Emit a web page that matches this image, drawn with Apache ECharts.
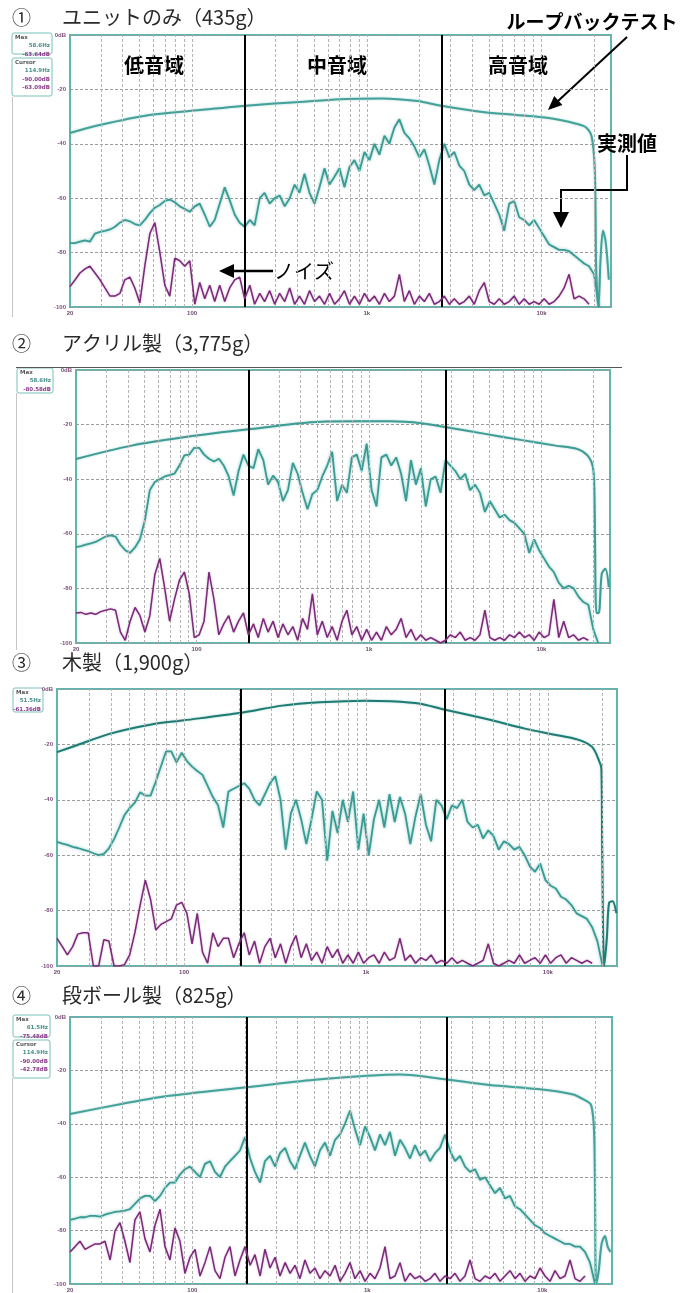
<!DOCTYPE html>
<html>
<head>
<meta charset="utf-8">
<script src="https://cdn.jsdelivr.net/npm/echarts/dist/echarts.min.js"></script>
<style>
html, body { margin: 0; padding: 0; background: #fff; }
#chart { width: 700px; height: 1293px; }
</style>
</head>
<body>
<div id="chart"></div>
<script>
"use strict";

// shared frequency grid (Hz) for the measured and noise traces
var FREQS = [
	20, 21.4, 22.8, 24.4, 26.0, 27.8, 29.7, 31.7, 33.9, 36.2,
	38.6, 41.2, 44.0, 47.0, 50.2, 53.6, 57.3, 61.2, 65.4, 69.8,
	74.5, 79.6, 85.0, 90.8, 97.0, 103.6, 110.6, 118.1, 126.2, 134.7,
	143.9, 153.7, 164.1, 175.3, 187.2, 200, 214, 228, 244, 260,
	278, 297, 317, 339, 362, 386, 412, 440, 470, 502,
	536, 573, 612, 654, 698, 745, 796, 850, 908, 970,
	1036, 1106, 1181, 1262, 1347, 1439, 1537, 1641, 1753, 1872,
	2000, 2136, 2281, 2436, 2602, 2779, 2968, 3170, 3385, 3615,
	3861, 4124, 4404, 4704, 5023, 5365, 5730, 6119, 6535, 6980,
	7454, 7961, 8502, 9080, 9698, 10357, 11061, 11813, 12617, 13474,
	14390, 15369, 16414, 17530, 18722, 20000, 21360, 22810, 24360
];

var GRID_FREQS = [30, 40, 50, 60, 70, 80, 90, 100, 200, 300, 400, 500, 600, 700, 800, 900,
	1000, 2000, 3000, 4000, 5000, 6000, 7000, 8000, 9000, 10000, 20000];

var TITLES = ['ユニットのみ（435g）', 'アクリル製（3,775g）', '木製（1,900g）', '段ボール製（825g）'];
var NUMBERS = ['①', '②', '③', '④'];
var BAND_NAMES = ['低音域', '中音域', '高音域'];

// ① unit only
var p1Loop = [[20, -36], [30, -33], [57, -29.4], [111, -27.6], [195, -26.1], [412, -24.6], [760, -23.5],
	[1230, -23.3], [1950, -24.3], [2670, -26], [4600, -28.3], [7200, -29.4], [11000, -30.5], [15800, -32.6],
	[18000, -34], [19400, -37.5], [20200, -50], [20600, -88], [21200, -100], [21800, -82], [22500, -72],
	[23300, -76], [24300, -90]];
var p1Measured = [
	-76.5, -76.5, -76, -75.5, -76, -73, -72.4, -72, -71.5, -70.5,
	-69, -68, -68.5, -69.5, -70, -68, -65.5, -63.5, -62.5, -61,
	-60.5, -61.5, -63, -64, -65, -63, -62, -66, -70.5, -68,
	-62, -56, -60.7, -66, -69, -70.5, -68, -70, -60, -58,
	-62, -60, -59, -63, -60, -55, -58, -51, -58, -62,
	-56, -49, -55, -52, -49, -56, -48.5, -46, -50, -43,
	-46, -40, -44, -37, -40, -34, -31, -36, -38, -41,
	-45, -42, -48, -55, -46, -40, -45, -43, -48, -50,
	-55, -57, -55, -59, -58, -62, -66, -72, -62, -61,
	-67, -68, -70, -68, -71, -74, -77, -78, -79, -79,
	-79.5, -81, -82.5, -84, -85, -88, -100
];
var p1Noise = [
	-92.5, -90, -87.5, -86, -85, -87.5, -90, -93, -96, -96,
	-95, -90, -89, -93, -98.5, -85, -73, -69, -80, -92,
	-96, -82, -83, -85, -83, -99, -91, -97, -92, -98,
	-92, -98, -93, -90, -89, -97, -92, -99, -95, -98,
	-94, -99, -95, -98, -93, -99, -96, -99, -94, -98,
	-96, -99, -95, -99, -97, -94, -99, -96, -99, -95,
	-98, -96, -99, -95, -98, -96, -88, -98, -94, -99,
	-96, -98, -95, -99, -98, -96, -99, -97, -99, -98,
	-96, -99, -94, -91, -98, -99, -97, -99, -98, -96,
	-99, -97, -99, -98, -99, -97, -99, -98, -96, -93,
	-88, -97, -96, -97, -99
];

// ② acrylic
var p2Loop = [[20, -32.6], [42, -27.7], [100, -24], [206, -21.6], [565, -18.9], [1320, -18.8], [2020, -19.5],
	[2810, -21], [4720, -23.4], [7570, -25.6], [12100, -27.7], [16100, -28.9], [18500, -31.3], [19900, -35.6],
	[20300, -45], [20850, -89], [21500, -89], [22400, -74.6], [23500, -72.8], [24600, -79.5]];
var p2Measured = [
	-64.9, -64.5, -64, -63.5, -63, -62, -61, -60.6, -61, -64,
	-66, -67, -65, -62, -55, -44, -41, -40, -39, -38.5,
	-38, -35, -31.3, -31, -28.5, -28.5, -31, -32.5, -33.5, -32.5,
	-35, -39, -46, -37, -31, -35, -36, -29, -33, -42,
	-38.7, -41, -48, -44, -34, -38, -45, -51, -45.4, -44,
	-39, -35, -30, -48, -42, -45, -32, -31, -37, -27,
	-44, -50, -32, -31, -35, -32, -38, -48, -33, -42,
	-36, -50, -40, -39, -45, -33, -35, -37, -40, -38,
	-44, -42, -45, -52, -48, -51, -54, -53, -55, -56,
	-58, -60, -67, -62, -66, -69, -72, -74, -78, -80,
	-79, -80, -83, -85, -86, -95, -100
];
var p2Noise = [
	-89, -88.8, -89.5, -89, -89.5, -88.5, -88, -87.5, -88, -96,
	-99, -92, -87, -90, -96, -90, -75, -69, -80, -92,
	-84, -77, -74, -82, -98, -97, -92, -74, -84, -97,
	-93, -90, -96, -92, -89, -97, -93, -98, -91, -96,
	-92, -98, -93, -97, -94, -99, -91, -95, -82, -97,
	-92, -98, -94, -99, -92, -88, -97, -94, -99, -95,
	-99, -96, -99, -94, -97, -95, -91, -98, -95, -99,
	-97, -99, -98, -99, -100, -99, -97, -98, -96, -99,
	-98, -99, -97, -88, -98, -99, -98, -99, -97, -98,
	-96, -98, -97, -99, -96, -98, -97, -84, -98, -92,
	-98, -97, -99, -98, -99
];

// ③ wood
var p3Loop = [[20, -22.8], [25.7, -20.3], [39.3, -16.1], [66, -12.8], [100, -11.3], [205, -8.6], [346, -6],
	[556, -4.8], [980, -4.2], [1365, -4.4], [1990, -5.3], [2640, -7.3], [4670, -10.9], [7480, -14.3],
	[10900, -16.5], [14500, -18.2], [17500, -20.9], [19260, -26.4], [19700, -28.8], [19900, -58],
	[20400, -100], [21100, -90], [21700, -77.2], [22700, -76.6], [23800, -80.9]];
var p3Measured = [
	-55.2, -55.8, -56.3, -57, -57.4, -58, -58.5, -59.3, -60, -59.5,
	-57.5, -54.2, -50, -45.5, -43, -41, -37.3, -38.5, -38.5, -33.5,
	-28, -22.5, -22.5, -26.5, -23, -26, -28, -29.6, -31, -35,
	-39, -42, -50, -37, -36, -35, -34, -36, -40, -42,
	-38, -34, -31.5, -40, -58, -45, -40, -47, -56, -47,
	-37, -40, -62, -44, -52, -40, -48, -37, -58, -45,
	-60, -47, -40, -50, -38, -48, -39, -45, -56, -46,
	-38, -49, -55, -40, -42, -47, -42, -43, -40, -48,
	-50, -49, -54, -51, -53, -58, -55, -56, -58, -57,
	-60, -64, -66, -63, -69, -71, -72, -75, -76, -78,
	-81, -82, -83, -86, -91, -100
];
var p3Noise = [
	-90, -93, -96, -93, -88.5, -88, -88, -100, -100, -90.5,
	-91, -100, -100, -99.5, -96, -88, -78, -69, -76, -87,
	-85, -84, -83, -78, -77, -81, -92, -81, -95, -99,
	-88, -93, -90, -90, -97, -92, -88, -96, -91, -99,
	-93, -90, -97, -92, -99, -93, -89, -97, -92, -98,
	-95, -99, -93, -97, -94, -99, -96, -99, -95, -99,
	-97, -96, -99, -95, -98, -97, -90, -98, -96, -99,
	-97, -98, -96, -99, -98, -99, -97, -99, -98, -99,
	-100, -99, -98, -92, -99, -100, -99, -98, -99, -96,
	-99, -98, -97, -99, -96, -99, -97, -96, -99, -97,
	-98, -99, -98, -99
];

// ④ cardboard
var p4Loop = [[20, -36.3], [40, -32.5], [72, -29.6], [203, -26.3], [500, -23.5], [1000, -22], [1540, -21.5],
	[2780, -23.3], [5000, -25.5], [9400, -27], [15000, -29], [17000, -30.7], [19000, -33], [19800, -45],
	[20300, -100], [21000, -95], [21800, -85], [22800, -82], [23600, -86], [24500, -88]];
var p4Measured = [
	-76, -75.5, -75, -75, -74.5, -74.5, -74.8, -74, -73.5, -73,
	-72.8, -72.5, -72, -70, -68, -67, -67, -69, -67, -64,
	-62, -62, -59, -57, -56, -58, -60, -55, -54, -58,
	-60, -56, -54, -52, -50, -45, -53, -58, -62, -54,
	-52, -56, -51, -49, -54, -57, -52, -47, -52, -56,
	-50, -47, -52, -46, -44, -40, -35, -42, -48, -41,
	-45, -50, -44, -48, -43, -52, -46, -49, -53, -48,
	-52, -50, -54, -51, -49, -44, -50, -54, -52, -56,
	-58, -57, -61, -60, -63, -66, -64, -68, -67, -71,
	-72, -74, -76, -78, -79, -81, -82, -83, -84, -85,
	-85, -86, -86, -88, -92, -100
];
var p4Noise = [
	-88, -86, -84, -87, -86, -85, -85, -84, -91, -80,
	-77, -84, -92, -76, -73, -83, -88, -78, -72, -86,
	-91, -79, -84, -96, -90, -87, -97, -92, -86, -95,
	-98, -90, -86, -97, -91, -86, -93, -89, -97, -87,
	-94, -90, -97, -92, -96, -93, -98, -91, -96, -94,
	-98, -95, -97, -93, -99, -96, -92, -98, -95, -99,
	-96, -98, -94, -86, -98, -97, -92, -99, -96, -98,
	-97, -99, -98, -96, -99, -97, -98, -96, -99, -97,
	-91, -98, -99, -97, -98, -96, -99, -97, -95, -98,
	-96, -99, -97, -98, -94, -97, -99, -95, -98, -97,
	-91, -98, -99, -97
];

// band edges (Hz) drawn as black lines in each panel
var BANDS = [[200, 2700], [200, 2800], [205, 2700], [205, 2850]];

var INFO = [
	[{ x: 12, y: 33, w: 40, h: 21, lines: ['Max', '58.6Hz', '-63.64dB'] },
	 { x: 12, y: 58, w: 40, h: 38, lines: ['Cursor', '114.9Hz', '-90.00dB', '-63.09dB'] }],
	[{ x: 17, y: 368, w: 36, h: 25, lines: ['Max', '58.6Hz', '-80.58dB'] }],
	[{ x: 13, y: 688, w: 30, h: 24, lines: ['Max', '51.5Hz', '-61.36dB'] }],
	[{ x: 13, y: 1015, w: 37, h: 22, lines: ['Max', '61.5Hz', '-75.48dB'] },
	 { x: 13, y: 1040, w: 37, h: 38, lines: ['Cursor', '114.9Hz', '-90.00dB', '-42.78dB'] }]
];

var PANELS = [
	{ grid: { left: 70, top: 35, width: 541, height: 272 }, xMax: 25000, titleY: 19, loop: p1Loop, meas: p1Measured, noise: p1Noise, loopColor: '#45a29b' },
	{ grid: { left: 76, top: 370, width: 534, height: 273 }, xMax: 25000, titleY: 345, loop: p2Loop, meas: p2Measured, noise: p2Noise, loopColor: '#3f9c95' },
	{ grid: { left: 57, top: 689, width: 560, height: 277 }, xMax: 24000, titleY: 664, loop: p3Loop, meas: p3Measured, noise: p3Noise, loopColor: '#1f7c75' },
	{ grid: { left: 70, top: 1017, width: 542, height: 270 }, xMax: 25000, titleY: 997, loop: p4Loop, meas: p4Measured, noise: p4Noise, loopColor: '#45a29b' }
];

var JP = '"Noto Sans CJK JP", sans-serif';

function toPairs(values) {
	var out = [];
	for (var k = 0; k < values.length; k++) {
		if (values[k] !== null) out.push([FREQS[k], values[k]]);
	}
	return out;
}

function fmtFreq(v) {
	var r = Math.round(v);
	if (r === 20) return '20';
	if (r === 100) return '100';
	if (r === 1000) return '1k';
	if (r === 10000) return '10k';
	return '';
}

function fmtDb(v) {
	return v === 0 ? '0dB' : String(v);
}

var option = {
	animation: false,
	backgroundColor: '#fff',
	grid: [],
	xAxis: [],
	yAxis: [],
	series: [],
	graphic: []
};

PANELS.forEach(function(p, i) {
	var g = p.grid;
	option.grid.push({
		left: g.left, top: g.top, width: g.width, height: g.height,
		show: true, borderColor: '#5db7ae', borderWidth: 2, backgroundColor: '#fff'
	});
	option.xAxis.push({
		type: 'log', logBase: 10, gridIndex: i, min: 20, max: p.xMax,
		axisLine: { show: false }, axisTick: { show: false }, splitLine: { show: false },
		axisLabel: { fontSize: 6, color: '#6d4a6d', fontWeight: 'bold', margin: 3, formatter: fmtFreq, showMaxLabel: false }
	});
	option.yAxis.push({
		type: 'value', gridIndex: i, min: -100, max: 0, interval: 20,
		axisLine: { show: false }, axisTick: { show: false },
		splitLine: { lineStyle: { color: '#9c9c9c', type: [3, 2], width: 1 } },
		axisLabel: { fontSize: 6, color: '#7d4f7d', fontWeight: 'bold', margin: 4, formatter: fmtDb }
	});

	// dashed frequency grid
	option.series.push({
		type: 'line', xAxisIndex: i, yAxisIndex: i, data: [], silent: true, z: 1,
		markLine: {
			silent: true, symbol: ['none', 'none'], animation: false, label: { show: false },
			lineStyle: { color: '#b3b3b3', type: [3, 2], width: 1 },
			data: GRID_FREQS.map(function(f) { return { xAxis: f }; })
		}
	});
	option.series.push({
		name: 'loopback', type: 'line', xAxisIndex: i, yAxisIndex: i, data: p.loop,
		showSymbol: false, symbol: 'none', smooth: 0.3, z: 3,
		lineStyle: { color: p.loopColor, width: 2, shadowColor: 'rgba(90,175,165,0.6)', shadowBlur: 2 }
	});
	option.series.push({
		name: 'measured', type: 'line', xAxisIndex: i, yAxisIndex: i, data: toPairs(p.meas),
		showSymbol: false, symbol: 'none', z: 4,
		lineStyle: { color: '#399b94', width: 1.8, shadowColor: 'rgba(90,175,165,0.7)', shadowBlur: 3 }
	});
	option.series.push({
		name: 'noise', type: 'line', xAxisIndex: i, yAxisIndex: i, data: toPairs(p.noise),
		showSymbol: false, symbol: 'none', z: 5,
		lineStyle: { color: '#7b2a79', width: 1.5, shadowColor: 'rgba(150,80,150,0.5)', shadowBlur: 2 }
	});
	// band borders
	option.series.push({
		type: 'line', xAxisIndex: i, yAxisIndex: i, data: [], silent: true, z: 10,
		markLine: {
			silent: true, symbol: ['none', 'none'], animation: false, label: { show: false },
			lineStyle: { color: '#000', type: 'solid', width: 2 },
			data: BANDS[i].map(function(f) { return { xAxis: f }; })
		}
	});

	// title
	option.graphic.push({
		type: 'text', left: 12, top: p.titleY - 11,
		style: { text: NUMBERS[i], font: '19px ' + JP, fill: '#2a2a2a' }
	});
	option.graphic.push({
		type: 'text', left: 62, top: p.titleY - 12,
		style: { text: TITLES[i], font: '20px ' + JP, fill: '#2a2a2a' }
	});

	// measurement info boxes
	INFO[i].forEach(function(b) {
		option.graphic.push({
			type: 'rect', shape: { x: b.x, y: b.y, width: b.w, height: b.h, r: 2 },
			style: { fill: '#fff', stroke: '#78c2ba', lineWidth: 1 }
		});
		b.lines.forEach(function(t, j) {
			var col = j === 0 ? '#555' : (t.indexOf('Hz') > 0 ? '#4a8f8a' : '#8b3b8b');
			option.graphic.push({
				type: 'text', x: j === 0 ? b.x + 3 : b.x + b.w - 2, y: b.y + 1.5 + j * 8.5,
				style: { text: t, font: 'bold 5.5px "DejaVu Sans"', fill: col, align: j === 0 ? 'left' : 'right', verticalAlign: 'top' }
			});
		});
	});
});

// screenshot frame leftovers
option.graphic.push(
	{ type: 'line', shape: { x1: 12.5, y1: 97, x2: 12.5, y2: 317 }, style: { stroke: '#c4c4c4', lineWidth: 1 } },
	{ type: 'line', shape: { x1: 16, y1: 367.5, x2: 622, y2: 367.5 }, style: { stroke: '#555', lineWidth: 1 } },
	{ type: 'line', shape: { x1: 16.5, y1: 393, x2: 16.5, y2: 650 }, style: { stroke: '#c4c4c4', lineWidth: 1 } },
	{ type: 'line', shape: { x1: 12.5, y1: 1078, x2: 12.5, y2: 1293 }, style: { stroke: '#c4c4c4', lineWidth: 1 } }
);

// band names in panel 1
[[154, 65], [337, 65], [518, 65]].forEach(function(pos, j) {
	option.graphic.push({
		type: 'text', x: pos[0], y: pos[1],
		style: { text: BAND_NAMES[j], font: 'bold 20px ' + JP, fill: '#000', align: 'center', verticalAlign: 'middle' }
	});
});

// annotations
option.graphic.push(
	{ type: 'text', x: 592, y: 22, style: { text: 'ループバックテスト', font: 'bold 19px ' + JP, fill: '#000', align: 'center', verticalAlign: 'middle' } },
	{ type: 'line', shape: { x1: 627, y1: 37, x2: 558, y2: 101 }, style: { stroke: '#000', lineWidth: 2 } },
	{ type: 'polygon', shape: { points: [[548, 110], [562.4, 104.9], [554.2, 96.1]] }, style: { fill: '#000' } },
	{ type: 'text', x: 627, y: 143, style: { text: '実測値', font: 'bold 20px ' + JP, fill: '#000', align: 'center', verticalAlign: 'middle' } },
	{ type: 'polyline', shape: { points: [[627, 155], [627, 190], [561, 190], [561, 213]] }, style: { stroke: '#000', lineWidth: 2, fill: null } },
	{ type: 'polygon', shape: { points: [[553, 212], [569, 212], [561, 228]] }, style: { fill: '#000' } },
	{ type: 'line', shape: { x1: 273, y1: 271, x2: 232, y2: 271 }, style: { stroke: '#000', lineWidth: 2.5 } },
	{ type: 'polygon', shape: { points: [[219, 271], [234, 264], [234, 278]] }, style: { fill: '#000' } },
	{ type: 'text', x: 274, y: 271, style: { text: 'ノイズ', font: '20px ' + JP, fill: '#000', align: 'left', verticalAlign: 'middle' } }
);

var chart = echarts.init(document.getElementById('chart'), null, { renderer: 'canvas' });
chart.setOption(option);
</script>
</body>
</html>
